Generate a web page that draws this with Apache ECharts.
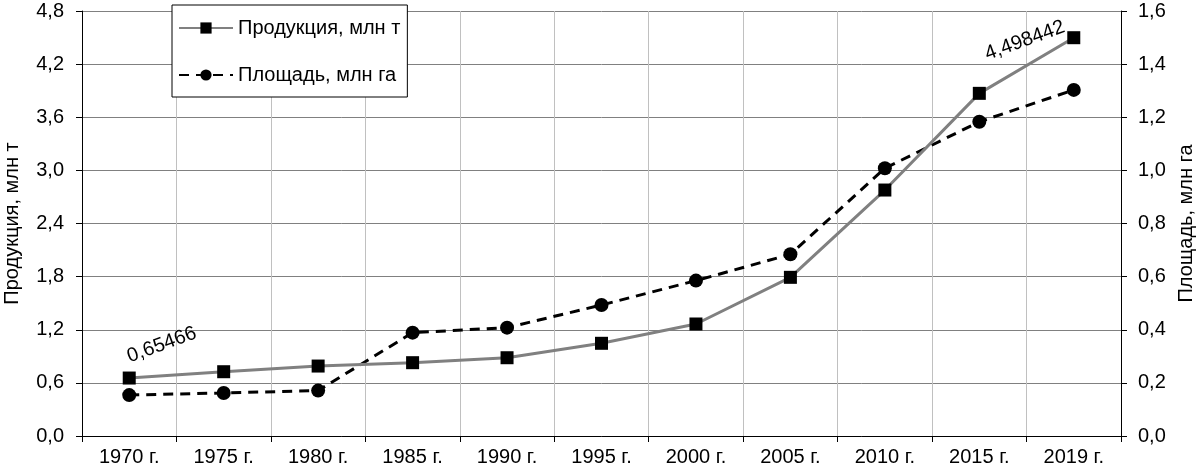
<!DOCTYPE html>
<html>
<head>
<meta charset="utf-8">
<script src="https://cdn.jsdelivr.net/npm/echarts@6/dist/echarts.min.js"></script>
<style>
html,body{margin:0;padding:0;background:#fff;}
#chart{width:1201px;height:470px;}
</style>
</head>
<body>
<div id="chart"></div>
<script>
const categories = ['1970 г.', '1975 г.', '1980 г.', '1985 г.', '1990 г.', '1995 г.', '2000 г.', '2005 г.', '2010 г.', '2015 г.', '2019 г.'];
const productionName = 'Продукция, млн т';
const areaName = 'Площадь, млн га';
const production = [0.65466, 0.726, 0.79, 0.828, 0.884, 1.047, 1.265, 1.792, 2.778, 3.870, 4.498442];
const area = [0.154, 0.162, 0.171, 0.389, 0.408, 0.493, 0.585, 0.684, 1.008, 1.183, 1.303];
const leftAxis = { min: 0, max: 4.8, interval: 0.6 };
const rightAxis = { min: 0, max: 1.6, interval: 0.2 };
const labeledPoints = [0, 10];

const FONT = 'Liberation Sans, Arial, sans-serif';
const FS = 20;
const fmt = v => v.toFixed(1).replace('.', ',');

const labelStyles = {
  0: { offset: [42, -20] },
  10: { offset: [-47, -14] }
};

const productionData = production.map((v, i) => {
  if (labeledPoints.indexOf(i) < 0) return v;
  return {
    value: v,
    label: {
      show: true,
      position: 'inside',
      align: 'center',
      verticalAlign: 'middle',
      rotate: 20,
      offset: labelStyles[i].offset,
      fontSize: FS,
      fontFamily: FONT,
      color: '#000',
      formatter: p => String(p.value).replace('.', ',')
    }
  };
});

const chart = echarts.init(document.getElementById('chart'), null, { renderer: 'canvas' });
chart.setOption({
  animation: false,
  backgroundColor: '#fff',
  textStyle: { fontFamily: FONT },
  grid: { left: 82, right: 80, top: 11, bottom: 34, containLabel: false, outerBoundsMode: 'none' },
  legend: {
    orient: 'vertical',
    left: 172,
    top: 5,
    padding: [13, 7, 12, 6],
    itemGap: 27,
    itemWidth: 54,
    itemHeight: 14,
    backgroundColor: '#fff',
    borderColor: '#000',
    borderWidth: 1,
    textStyle: { fontSize: FS, color: '#000', fontFamily: FONT },
    data: [productionName, areaName]
  },
  xAxis: {
    type: 'category',
    data: categories,
    boundaryGap: true,
    axisLine: { show: true, lineStyle: { color: '#000', width: 1 } },
    axisTick: { show: true, inside: false, length: 6, lineStyle: { color: '#000' } },
    axisLabel: { fontSize: FS, color: '#000', margin: 11, fontFamily: FONT },
    splitLine: { show: true, lineStyle: { color: '#c0c0c0', width: 1 } }
  },
  yAxis: [
    {
      type: 'value',
      min: leftAxis.min, max: leftAxis.max, interval: leftAxis.interval,
      name: productionName,
      nameLocation: 'middle',
      nameRotate: 90,
      nameGap: 60,
      nameTextStyle: { fontSize: FS, color: '#000', fontFamily: FONT },
      axisLine: { show: true, lineStyle: { color: '#000', width: 1 } },
      axisTick: { show: true, inside: false, length: 6, lineStyle: { color: '#000' } },
      axisLabel: { fontSize: FS, color: '#000', margin: 18, formatter: fmt, fontFamily: FONT },
      splitLine: { show: true, lineStyle: { color: '#808080', width: 1 } }
    },
    {
      type: 'value',
      position: 'right',
      min: rightAxis.min, max: rightAxis.max, interval: rightAxis.interval,
      name: areaName,
      nameLocation: 'middle',
      nameRotate: 90,
      nameGap: 55,
      nameTextStyle: { fontSize: FS, color: '#000', fontFamily: FONT },
      axisLine: { show: true, lineStyle: { color: '#000', width: 1 } },
      axisTick: { show: true, inside: false, length: 6, lineStyle: { color: '#000' } },
      axisLabel: { fontSize: FS, color: '#000', margin: 17, formatter: fmt, fontFamily: FONT },
      splitLine: { show: false }
    }
  ],
  series: [
    {
      name: productionName,
      type: 'line',
      yAxisIndex: 0,
      data: productionData,
      symbol: 'rect',
      symbolSize: 13,
      itemStyle: { color: '#000' },
      lineStyle: { color: '#808080', width: 3 },
      z: 3
    },
    {
      name: areaName,
      type: 'line',
      yAxisIndex: 1,
      data: area,
      symbol: 'circle',
      symbolSize: 14,
      itemStyle: { color: '#000' },
      lineStyle: { color: '#000', width: 3, type: [10, 7] },
      z: 2
    }
  ]
});
</script>
</body>
</html>
